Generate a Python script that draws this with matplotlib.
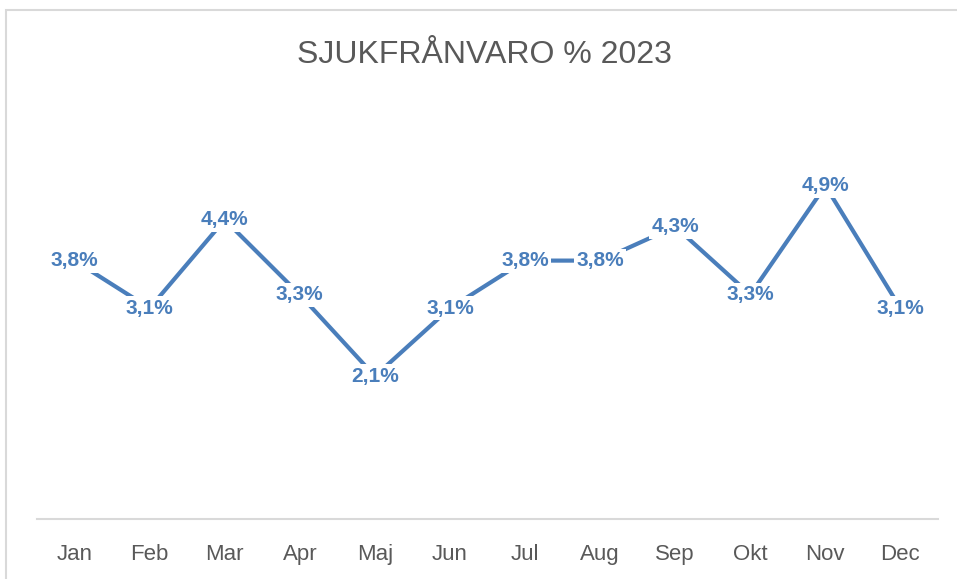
import matplotlib.pyplot as plt
from matplotlib.patches import Rectangle

# Monthly sick-leave values (%)
months = ['Jan', 'Feb', 'Mar', 'Apr', 'Maj', 'Jun', 'Jul', 'Aug', 'Sep', 'Okt', 'Nov', 'Dec']
values = [3.8, 3.1, 4.4, 3.3, 2.1, 3.1, 3.8, 3.8, 4.3, 3.3, 4.9, 3.1]

blue = '#4A7EBB'
plt.rcParams['font.family'] = ['Liberation Sans', 'DejaVu Sans']

W, H = 957, 579
fig = plt.figure(figsize=(W / 100, H / 100), dpi=100)

# chart area frame
fig.patches.append(Rectangle((6 / W, -0.1), 1.1, 1 - 10 / H + 0.1, transform=fig.transFigure,
                             facecolor='none', edgecolor='#D9D9D9', linewidth=1.5))

ax = fig.add_axes([37 / W, 1 - 519 / H, (938 - 37) / W, (519 - 111) / H])
x = list(range(len(months)))
ax.plot(x, values, color=blue, linewidth=3, solid_capstyle='butt', zorder=2)

for xi, v in zip(x, values):
    ax.text(xi, v, f'{v:.1f}%'.replace('.', ','), ha='center', va='center',
            fontsize=15, fontweight='bold', color=blue, zorder=3,
            bbox=dict(boxstyle='square,pad=0.12', facecolor='white', edgecolor='none'))

ax.set_xlim(-0.5, 11.5)
ax.set_ylim(0, 6)
ax.set_xticks(x)
ax.set_xticklabels(months, fontsize=16, color='#595959')
ax.tick_params(axis='x', length=0, pad=18)
ax.set_yticks([])
for side in ['top', 'right', 'left']:
    ax.spines[side].set_visible(False)
ax.spines['bottom'].set_color('#D9D9D9')
ax.spines['bottom'].set_linewidth(1.5)

fig.text(484 / W, 1 - 55 / H, 'SJUKFRÅNVARO % 2023', ha='center', va='center',
         fontsize=23, color='#595959')

fig.savefig('out.png', dpi=100)
